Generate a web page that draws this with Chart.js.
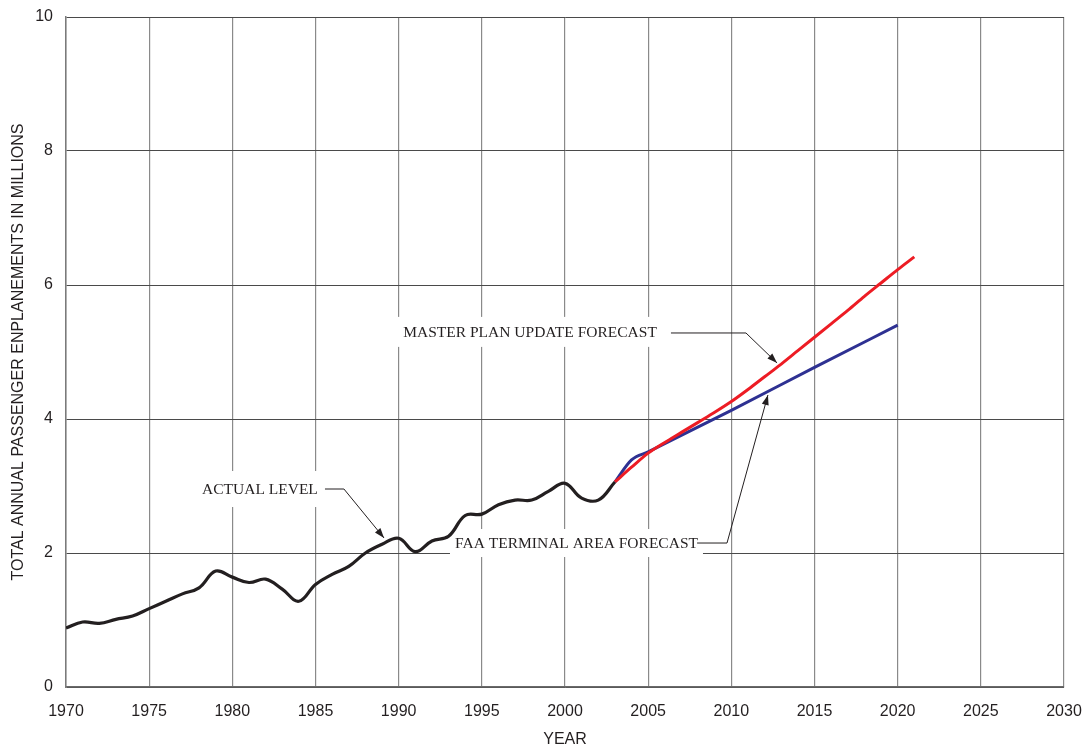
<!DOCTYPE html>
<html>
<head>
<meta charset="utf-8">
<script src="https://cdn.jsdelivr.net/npm/chart.js@4.4.0/dist/chart.umd.min.js"></script>
<style>
  html, body { margin: 0; padding: 0; background: #fff; }
  #wrap { width: 1089px; height: 749px; }
</style>
</head>
<body>
<div id="wrap"><canvas id="enplanements_chart"></canvas></div>
<script>
// actual enplanements, 1970-2003 (millions)
const actual_years = [1970, 1971, 1972, 1973, 1974, 1975, 1976, 1977, 1978, 1979,
                      1980, 1981, 1982, 1983, 1984, 1985, 1986, 1987, 1988, 1989,
                      1990, 1991, 1992, 1993, 1994, 1995, 1996, 1997, 1998, 1999,
                      2000, 2001, 2002, 2003];
const actual_values = [0.88, 0.97, 0.95, 1.01, 1.06, 1.17, 1.28, 1.39, 1.48, 1.73,
                       1.64, 1.56, 1.61, 1.46, 1.28, 1.53, 1.68, 1.80, 2.00, 2.13,
                       2.22, 2.02, 2.18, 2.25, 2.56, 2.58, 2.72, 2.79, 2.79, 2.92,
                       3.04, 2.82, 2.79, 3.06];

// master plan update forecast
const master_years = [2003, 2004, 2005, 2006, 2007, 2008, 2009, 2010, 2011, 2012,
                      2013, 2014, 2015, 2016, 2017, 2018, 2019, 2020, 2021];
const master_values = [3.06, 3.28, 3.49, 3.65, 3.80, 3.95, 4.10, 4.26, 4.44, 4.63,
                       4.82, 5.02, 5.22, 5.42, 5.62, 5.83, 6.03, 6.23, 6.42];

// FAA terminal area forecast
const faa_years = [2003, 2004, 2005, 2010, 2015, 2020];
const faa_values = [3.06, 3.39, 3.51, 4.13, 4.77, 5.40];

const x_min = 1970, x_max = 2030, x_step = 5;
const y_min = 0, y_max = 10, y_step = 2;

function toPoints(xs, ys) {
    return xs.map((x, i) => ({x: x, y: ys[i]}));
}

// callouts, in data units (year, millions)
const callouts = [
    {text: 'ACTUAL LEVEL', at: [1981.66, 2.955], padX: 6, padY: 18,
     leader: [[1985.57, 2.955], [1986.71, 2.955], [1989.12, 2.224]]},
    {text: 'MASTER PLAN UPDATE FORECAST', at: [1997.9, 5.30], padX: 7, padY: 15,
     leader: [[2006.37, 5.284], [2010.88, 5.284], [2012.75, 4.836]]},
    {text: 'FAA TERMINAL AREA FORECAST', at: [2000.69, 2.149], padX: 5, padY: 14,
     leader: [[2007.94, 2.149], [2009.74, 2.149], [2012.2, 4.358]]}
];

const LABEL_FONT = '15.5px "Liberation Serif", "Times New Roman", serif';

const calloutPlugin = {
    id: 'callouts',
    // white boxes knock out the grid, drawn under the lines
    beforeDatasetsDraw(chart) {
        const ctx = chart.ctx;
        const xs = chart.scales.x, ys = chart.scales.y;
        ctx.save();
        ctx.font = LABEL_FONT;
        callouts.forEach(c => {
            const cx = xs.getPixelForValue(c.at[0]);
            const cy = ys.getPixelForValue(c.at[1]);
            const w = ctx.measureText(c.text).width;
            ctx.fillStyle = '#fff';
            ctx.fillRect(cx - w / 2 - c.padX, cy - c.padY, w + 2 * c.padX, 2 * c.padY);
        });
        ctx.restore();
    },
    afterDatasetsDraw(chart) {
        const ctx = chart.ctx;
        const xs = chart.scales.x, ys = chart.scales.y;
        ctx.save();
        ctx.font = LABEL_FONT;
        ctx.textBaseline = 'middle';
        ctx.textAlign = 'center';
        callouts.forEach(c => {
            const cx = xs.getPixelForValue(c.at[0]);
            const cy = ys.getPixelForValue(c.at[1]);
            ctx.fillStyle = '#231f20';
            ctx.fillText(c.text, cx, cy + 1);

            const pts = c.leader.map(p => [xs.getPixelForValue(p[0]), ys.getPixelForValue(p[1])]);
            ctx.strokeStyle = '#231f20';
            ctx.lineWidth = 1;
            ctx.beginPath();
            ctx.moveTo(pts[0][0], pts[0][1]);
            for (let i = 1; i < pts.length; i++) ctx.lineTo(pts[i][0], pts[i][1]);
            ctx.stroke();

            // arrow head
            const a = pts[pts.length - 2], b = pts[pts.length - 1];
            const ang = Math.atan2(b[1] - a[1], b[0] - a[0]);
            const len = 10, half = 3.5;
            ctx.fillStyle = '#231f20';
            ctx.beginPath();
            ctx.moveTo(b[0], b[1]);
            ctx.lineTo(b[0] - len * Math.cos(ang) + half * Math.sin(ang),
                       b[1] - len * Math.sin(ang) - half * Math.cos(ang));
            ctx.lineTo(b[0] - len * Math.cos(ang) - half * Math.sin(ang),
                       b[1] - len * Math.sin(ang) + half * Math.cos(ang));
            ctx.closePath();
            ctx.fill();
        });
        ctx.restore();
    }
};

Chart.defaults.color = '#231f20';
Chart.defaults.font.family = '"Liberation Sans", Arial, sans-serif';

const ctx = document.getElementById('enplanements_chart').getContext('2d');
const enplanements_chart = new Chart(ctx, {
    type: 'line',
    data: {
        datasets: [
            {
                label: 'Actual Level',
                data: toPoints(actual_years, actual_values),
                borderColor: '#231f20',
                borderWidth: 3.2,
                pointRadius: 0,
                tension: 0.4,
                fill: false
            },
            {
                label: 'Master Plan Update Forecast',
                data: toPoints(master_years, master_values),
                borderColor: '#ed1c24',
                borderWidth: 3,
                pointRadius: 0,
                cubicInterpolationMode: 'monotone',
                fill: false
            },
            {
                label: 'FAA Terminal Area Forecast',
                data: toPoints(faa_years, faa_values),
                borderColor: '#2e3192',
                borderWidth: 3,
                pointRadius: 0,
                cubicInterpolationMode: 'monotone',
                fill: false
            }
        ]
    },
    options: {
        responsive: true,
        maintainAspectRatio: false,
        animation: false,
        layout: {
            padding: {top: 17, right: 25, left: 0, bottom: 0}
        },
        plugins: {
            legend: {display: false},
            tooltip: {enabled: false}
        },
        scales: {
            x: {
                type: 'linear',
                min: x_min,
                max: x_max,
                afterFit: (scale) => {
                    scale.height = 62;
                    scale.paddingLeft = 0;
                    scale.paddingRight = 0;
                },
                ticks: {
                    stepSize: x_step,
                    padding: 15,
                    color: '#231f20',
                    font: {size: 16},
                    callback: (v) => v
                },
                grid: {
                    color: '#8a8a8a',
                    lineWidth: 1.2,
                    drawTicks: false
                },
                border: {color: '#6a6a6a', width: 1.5},
                title: {
                    display: true,
                    text: 'YEAR',
                    color: '#231f20',
                    font: {size: 16},
                    padding: {top: 0, bottom: 0}
                }
            },
            y: {
                min: y_min,
                max: y_max,
                afterFit: (scale) => {
                    scale.width = 66;
                    scale.paddingTop = 0;
                    scale.paddingBottom = 0;
                },
                ticks: {
                    stepSize: y_step,
                    padding: 13,
                    color: '#231f20',
                    font: {size: 16}
                },
                grid: {
                    color: '#4a4a4a',
                    lineWidth: 1,
                    drawTicks: false
                },
                border: {color: '#7a7a7a', width: 1.5},
                title: {
                    display: true,
                    text: 'TOTAL ANNUAL PASSENGER ENPLANEMENTS IN MILLIONS',
                    color: '#231f20',
                    font: {size: 16},
                    padding: {top: 9, bottom: 0}
                }
            }
        }
    },
    plugins: [calloutPlugin]
});
</script>
</body>
</html>
